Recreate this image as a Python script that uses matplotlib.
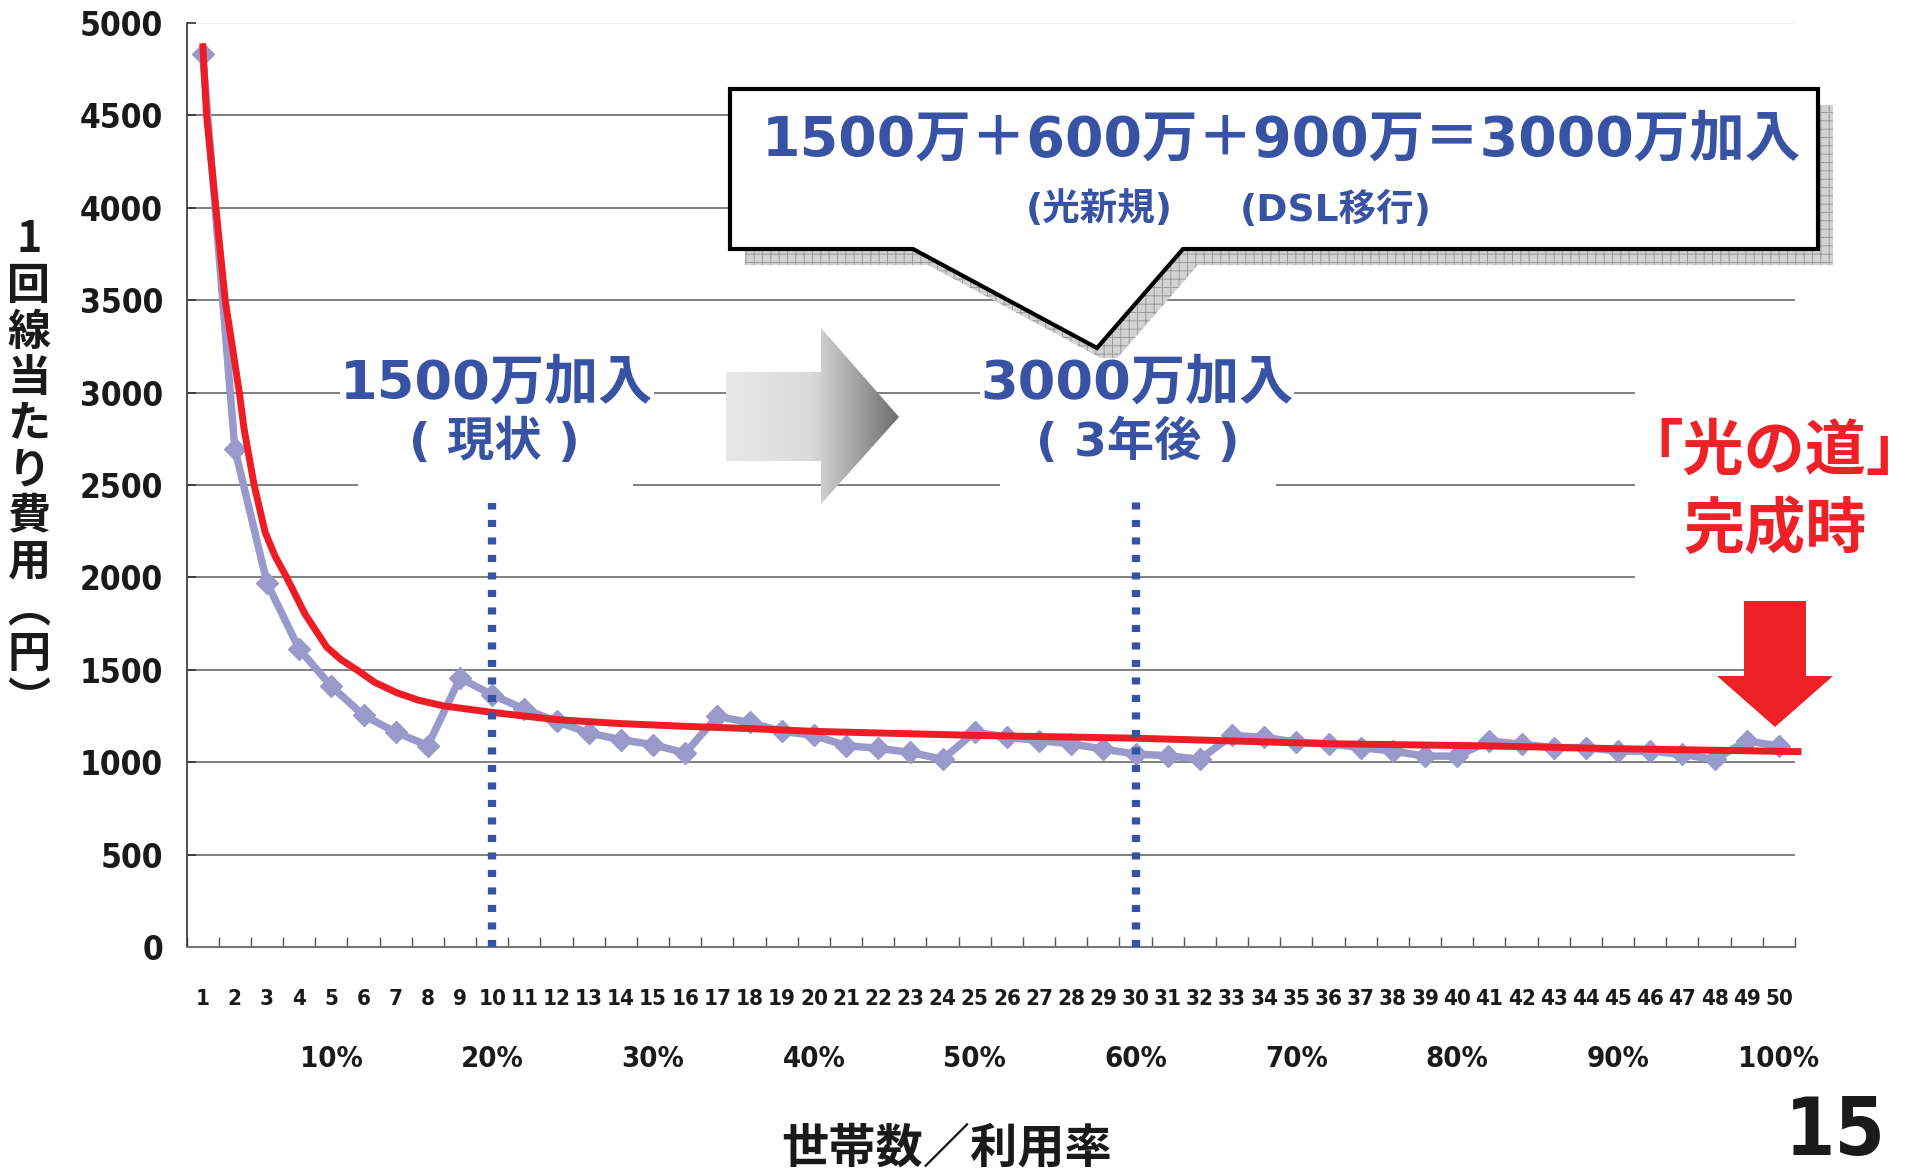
import numpy as np
import matplotlib
matplotlib.use("Agg")
import matplotlib.pyplot as plt
from matplotlib.patches import Polygon, Rectangle
from matplotlib.colors import LinearSegmentedColormap
from matplotlib import font_manager
from matplotlib.font_manager import FontProperties

# ============================================================
# Data
# ============================================================
households = list(range(1, 51))
cost = [4830, 2695, 1970, 1612, 1410, 1254, 1162, 1090, 1455, 1365,
        1287, 1221, 1158, 1122, 1095, 1050, 1248, 1215, 1167, 1145,
        1090, 1075, 1053, 1016, 1163, 1135, 1117, 1099, 1071, 1044,
        1035, 1016, 1145, 1135, 1108, 1100, 1079, 1060, 1033, 1033,
        1115, 1097, 1079, 1079, 1060, 1060, 1042, 1015, 1115, 1088]

# red trend curve
trend_x = [1.0, 1.12, 1.41, 1.7, 2.14, 2.29, 2.6, 2.94, 3.25, 3.61, 4.18,
           4.85, 5.3, 5.79, 6.35, 7.03, 7.7, 8.48, 9.93, 12, 14, 16, 18,
           20, 25, 30, 36, 41, 45, 50, 50.7]
trend_y = [4890, 4500, 4000, 3500, 3000, 2800, 2500, 2245, 2115, 2000, 1802,
           1624, 1555, 1500, 1432, 1376, 1336, 1305, 1271, 1230, 1209, 1194,
           1182, 1167, 1145, 1130, 1100, 1088, 1073, 1059, 1057]

pct_cats = [5, 10, 15, 20, 25, 30, 35, 40, 45, 50]
pct_labels = ["10%", "20%", "30%", "40%", "50%", "60%", "70%", "80%", "90%", "100%"]

ytick_vals = list(range(0, 5001, 500))

marker_cats = [10, 30]
marker_tops = [2400, 2470]

ylabel_chars = ["1", "回", "線", "当", "た", "り", "費", "用", "︵", "円", "︶"]

# ============================================================
# Fonts / colours
# ============================================================
def pick_narrow():
    # look for a condensed / narrow bold face among the installed fonts
    best, best_score = None, -1
    for f in font_manager.fontManager.ttflist:
        st = str(f.stretch).lower()
        nm = f.name.lower()
        cond = ("narrow" in nm or "condensed" in nm or "condensed" in st
                or "narrow" in f.fname.lower() or "condensed" in f.fname.lower())
        if not cond:
            continue
        w = f.weight
        if isinstance(w, str):
            w = font_manager.weight_dict.get(w, 400)
        score = 10 if 600 <= w <= 800 else (5 if w > 800 else 1)
        if "italic" in str(f.style).lower() or "oblique" in str(f.style).lower():
            score -= 20
        if score > best_score:
            best, best_score = f.fname, score
    return best

narrow_path = pick_narrow()
if narrow_path:
    NARROW = FontProperties(fname=narrow_path)
    SZ_Y, SZ_X, SZ_P, SZ_15 = 24, 16, 21, 58
else:
    NARROW = FontProperties(family="DejaVu Sans", weight="bold")
    SZ_Y, SZ_X, SZ_P, SZ_15 = 20, 12.5, 19, 54


def nfont(size):
    fp = NARROW.copy()
    fp.set_size(size)
    return fp


JP = "Noto Sans CJK JP"
MIX = ["DejaVu Sans", JP]

BLUE_TXT = "#3953A4"
LAVENDER = "#9999CC"
RED = "#EE1C25"
INK = "#1a1a1a"

plt.rcParams["hatch.linewidth"] = 0.7

W, H = 1921, 1174
fig = plt.figure(figsize=(W / 100, H / 100), dpi=100)

# ============================================================
# Main chart
# ============================================================
ax = fig.add_axes([186.6 / W, 1 - 947 / H, (1795 - 186.6) / W, (947 - 23) / H])

ax.plot(households, cost, color=LAVENDER, lw=5.4, marker="D", ms=11.5,
        mec=LAVENDER, mfc=LAVENDER, zorder=3, clip_on=False)
ax.plot(trend_x, trend_y, color=RED, lw=5, zorder=4, clip_on=False,
        solid_capstyle="butt", solid_joinstyle="round")
ax.vlines(marker_cats, 0, marker_tops, colors=BLUE_TXT, lw=6,
          linestyles=(0, (0.85, 1.25)), zorder=5, capstyle="butt")

ax.set_xlim(0.5, 50.5)
ax.set_ylim(0, 5000)

ax.set_yticks(ytick_vals)
ax.set_yticklabels([str(v) for v in ytick_vals], fontproperties=nfont(SZ_Y),
                   color=INK)
ax.tick_params(axis="y", direction="in", length=6.5, width=1.2,
               color="#333333", pad=17)

ax.set_xticks(households)
ax.set_xticklabels([str(v) for v in households], fontproperties=nfont(SZ_X),
                   color=INK)
ax.set_xticks([v + 0.5 for v in range(0, 51)], minor=True)
ax.tick_params(axis="x", which="major", length=0, pad=30)
ax.tick_params(axis="x", which="minor", direction="in", length=7,
               width=1.0, color="#555555")

ax.set_axisbelow(True)
ax.yaxis.grid(True, color="#6a6a6a", lw=1.2)
ax.get_ygridlines()[-1].set_color("#eeeeee")

for s in ["top", "right"]:
    ax.spines[s].set_visible(False)
ax.spines["left"].set_color("#333333")
ax.spines["left"].set_linewidth(1.2)
ax.spines["bottom"].set_color("#777777")
ax.spines["bottom"].set_linewidth(1.5)

for c, lab in zip(pct_cats, pct_labels):
    ax.text(c, -0.1207, lab, transform=ax.get_xaxis_transform(),
            ha="center", va="center", fontproperties=nfont(SZ_P), color=INK)

# ============================================================
# Overlay for the slide annotations (pixel coords)
# ============================================================
ov = fig.add_axes([0, 0, 1, 1], zorder=5)
ov.axis("off")

# white areas where the slide text boxes hide the gridlines
for x0, y0, w, h in [(358, 470, 275, 25), (1000, 470, 276, 25),
                     (1635, 375, 286, 215)]:
    ov.add_patch(Rectangle((x0, y0), w, h, fc="white", ec="none", zorder=1))

# grey gradient arrow
arrow_pts = [(726, 372), (821, 372), (821, 328), (899, 417), (821, 504),
             (821, 461), (726, 461)]
arrow = Polygon(arrow_pts, closed=True, fc="none", ec="none")
ov.add_patch(arrow)
grad = np.linspace(0, 1, 256).reshape(1, -1)
gcmap = LinearSegmentedColormap.from_list("g", ["#E8E8E8", "#DADADA", "#6E6E6E"])
im = ov.imshow(grad, cmap=gcmap, extent=(726, 899, 504, 328),
               aspect="auto", zorder=2)
im.set_clip_path(arrow)

# speech bubble with hatched shadow
bubble = [(730, 89), (1818, 89), (1818, 249), (1183, 249), (1097, 348),
          (913, 249), (730, 249)]
shadow = [(x + 15, y + 16) for x, y in bubble]
ov.add_patch(Polygon(shadow, closed=True, fc="#d2d2d2", ec="#9a9a9a",
                     lw=0, hatch="++", zorder=2))
ov.add_patch(Polygon(bubble, closed=True, fc="white", ec="black", lw=3,
                     joinstyle="miter", zorder=3))

ov.text(1281, 141, "1500万＋600万＋900万＝3000万加入", ha="center",
        va="center", fontsize=40, family=MIX, weight="bold",
        color=BLUE_TXT, zorder=6)
ov.text(1099, 210, "(光新規)", ha="center", va="center", fontsize=27,
        family=MIX, weight="bold", color=BLUE_TXT, zorder=6)
ov.text(1336, 210, "(DSL移行)", ha="center", va="center", fontsize=27,
        family=MIX, weight="bold", color=BLUE_TXT, zorder=6)

# now / 3 years later
ov.text(497, 384, "1500万加入", ha="center", va="center", fontsize=39,
        family=MIX, weight="bold", color=BLUE_TXT, zorder=6,
        bbox=dict(fc="white", ec="none", pad=0))
ov.text(494, 443, "( 現状 )", ha="center", va="center", fontsize=34,
        family=MIX, weight="bold", color=BLUE_TXT, zorder=6)
ov.text(1137, 384, "3000万加入", ha="center", va="center", fontsize=39,
        family=MIX, weight="bold", color=BLUE_TXT, zorder=6,
        bbox=dict(fc="white", ec="none", pad=0))
ov.text(1138, 443, "( 3年後 )", ha="center", va="center", fontsize=34,
        family=MIX, weight="bold", color=BLUE_TXT, zorder=6)

# red note + arrow
ov.text(1775, 452, "｢光の道｣", ha="center", va="center", fontsize=44,
        family=JP, weight="bold", color="#EE2127", zorder=6)
ov.text(1775, 530, "完成時", ha="center", va="center", fontsize=44,
        family=JP, weight="bold", color="#EE2127", zorder=6)
red_arrow = [(1744, 601), (1806, 601), (1806, 676), (1833, 676),
             (1775, 727), (1717, 676), (1744, 676)]
ov.add_patch(Polygon(red_arrow, closed=True, fc="#EE2127", ec="none", zorder=4))

# vertical y label, one character per line
ov.text(29, 470, "\n".join(ylabel_chars), ha="center", va="center",
        fontsize=31, family=JP, weight="bold", color=INK, linespacing=1.06,
        multialignment="center")

ov.text(947, 1148, "世帯数／利用率", ha="center", va="center", fontsize=34,
        family=JP, weight="bold", color=INK)
ov.text(1835, 1155, "15", ha="center", va="baseline",
        fontproperties=nfont(SZ_15), color=INK)

ov.set_xlim(0, W)
ov.set_ylim(H, 0)

fig.savefig("out.png", dpi=100)
